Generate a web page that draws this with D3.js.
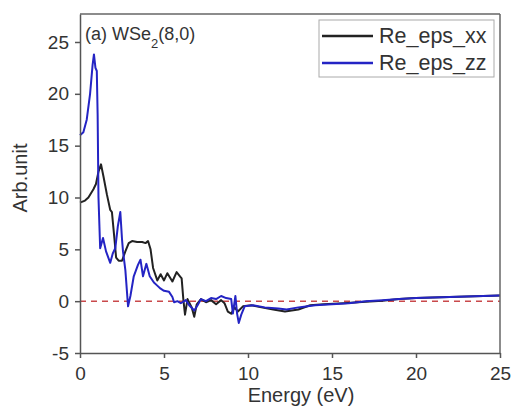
<!DOCTYPE html>
<html lang="en">
<head>
    <meta charset="UTF-8">
    <title>WSe2 (8,0)</title>
    <script src="https://cdn.jsdelivr.net/npm/d3@7"></script>
    <style>
        body { margin: 0; background: #fff; }
        text { font-family: "Liberation Sans", Arial, sans-serif; fill: #333; }
        .axis path, .axis line { stroke: #555; stroke-width: 1.5; }
        .axis text { font-size: 19px; fill: #333; }
    </style>
</head>
<body>
<svg id="chart" width="511" height="409"></svg>
<script>
    // energy (eV) and Re(eps) values
    var xxEnergy = [0, 0.3, 0.5, 0.8, 0.95, 1.1, 1.25, 1.4, 1.6, 1.8, 1.9, 2.05, 2.15, 2.3, 2.5, 2.7, 2.9, 3.1, 3.4, 3.7,
        3.9, 4.05, 4.2, 4.35, 4.6, 4.8, 5.0, 5.2, 5.5, 5.75, 5.95, 6.05, 6.15, 6.25, 6.4, 6.65, 6.8, 6.95, 7.2, 7.5,
        7.8, 8.1, 8.4, 8.6, 8.8, 9.0, 9.2, 9.4, 9.7, 10.2, 10.8, 11.5, 12.2, 13.0, 13.7, 14.5, 15.7, 17, 18, 19, 20, 22, 25];
    var xxValues = [9.5, 9.7, 10.0, 10.8, 11.3, 12.5, 13.2, 12.0, 10.3, 8.8, 8.6, 6.0, 4.2, 3.9, 3.9, 4.8, 5.6, 5.8, 5.7, 5.7,
        5.6, 5.8, 5.0, 3.2, 2.0, 2.6, 2.0, 2.7, 1.9, 2.8, 2.4, 2.2, 0.2, -1.3, 0.2, -0.6, -1.5, -0.3, 0.2, -0.1,
        0.1, -0.3, 0.1, -0.2, -1.0, -1.2, -0.6, -1.0, -0.5, -0.4, -0.6, -0.8, -1.0, -0.8, -0.4, -0.3, -0.2, -0.05, 0.05, 0.2, 0.3, 0.4, 0.55];

    var zzEnergy = [0, 0.2, 0.4, 0.6, 0.75, 0.83, 0.92, 1.0, 1.05, 1.1, 1.2, 1.37, 1.55, 1.8, 1.95, 2.1, 2.25, 2.4, 2.5, 2.56,
        2.7, 2.86, 3.0, 3.2, 3.45, 3.6, 3.75, 3.95, 4.15, 4.4, 4.6, 4.8, 5.0, 5.3, 5.5, 5.6, 5.8, 6.0, 6.3, 6.5,
        6.8, 7.0, 7.2, 7.5, 7.8, 8.1, 8.4, 8.7, 9.0, 9.1, 9.25, 9.35, 9.45, 9.6, 9.8, 10.3, 11, 11.8, 12.3, 13, 14, 15,
        16, 17, 18, 19, 20, 22, 25];
    var zzValues = [16.0, 16.3, 17.5, 20.0, 22.8, 23.8, 22.5, 22.2, 18, 10, 5.1, 6.1, 4.8, 3.7, 4.6, 5.1, 7.2, 8.6, 6.0, 4.8,
        3.0, -0.5, 0.5, 2.4, 3.5, 4.0, 2.4, 3.6, 2.4, 1.8, 1.5, 1.2, 1.0, 0.9, 0.4, -0.1, 0.0, -0.2, 0.1, -0.4,
        -0.9, -0.4, 0.2, 0.0, 0.3, 0.2, 0.5, 0.3, 0.2, -1.2, 0.5, -1.2, -2.1, -1.3, -0.5, -0.4, -0.6, -0.7, -0.8, -0.6, -0.4, -0.3,
        -0.2, 0.0, 0.1, 0.2, 0.3, 0.4, 0.55];

    var seriesNames = ["Re_eps_xx", "Re_eps_zz"];
    var seriesColors = ["#222222", "#2424c4"];
    var xTicks = [0, 5, 10, 15, 20, 25];
    var yTicks = [-5, 0, 5, 10, 15, 20, 25];

    var svg = d3.select("svg#chart");
    var margin = {top: 14, right: 11, bottom: 56, left: 80},
        width = 511 - margin.left - margin.right,
        height = 409 - margin.top - margin.bottom;

    var g = svg.append("g")
        .attr("transform", "translate(" + margin.left + "," + margin.top + ")");

    var x = d3.scaleLinear().domain([0, 25]).range([0, width]);
    var y = d3.scaleLinear().domain([-5, 27.7]).range([height, 0]);

    // zero reference line
    g.append("line")
        .attr("x1", x(0)).attr("x2", x(25))
        .attr("y1", y(0)).attr("y2", y(0))
        .attr("stroke", "#c9494b")
        .attr("stroke-width", 1.5)
        .attr("stroke-dasharray", "6,5");

    var line = d3.line()
        .x(function (d) { return x(d[0]); })
        .y(function (d) { return y(d[1]); });

    var xxData = d3.zip(xxEnergy, xxValues),
        zzData = d3.zip(zzEnergy, zzValues);

    g.append("path")
        .datum(xxData)
        .attr("d", line)
        .attr("fill", "none")
        .attr("stroke", seriesColors[0])
        .attr("stroke-width", 2)
        .attr("stroke-linejoin", "round");

    g.append("path")
        .datum(zzData)
        .attr("d", line)
        .attr("fill", "none")
        .attr("stroke", seriesColors[1])
        .attr("stroke-width", 2)
        .attr("stroke-linejoin", "round");

    // frame top and right
    g.append("line")
        .attr("x1", 0).attr("x2", width).attr("y1", 0).attr("y2", 0)
        .attr("stroke", "#666").attr("stroke-width", 1.5);
    g.append("line")
        .attr("x1", width).attr("x2", width).attr("y1", 0).attr("y2", height)
        .attr("stroke", "#666").attr("stroke-width", 1.5);

    // plain hyphen for negatives, as in the figure
    var plain = function (d) { return String(d); };

    g.append("g")
        .attr("class", "axis")
        .attr("transform", "translate(0," + height + ")")
        .call(d3.axisBottom(x).tickValues(xTicks).tickFormat(plain).tickSize(5).tickPadding(9).tickSizeOuter(0));

    g.append("g")
        .attr("class", "axis")
        .call(d3.axisLeft(y).tickValues(yTicks).tickFormat(plain).tickSize(5).tickPadding(6).tickSizeOuter(0));

    // axis titles
    svg.append("text")
        .attr("x", 301)
        .attr("y", 402)
        .attr("text-anchor", "middle")
        .style("font-size", "20px")
        .text("Energy (eV)");

    svg.append("text")
        .attr("transform", "translate(27,178) rotate(-90)")
        .attr("text-anchor", "middle")
        .style("font-size", "20px")
        .text("Arb.unit");

    // panel label
    var title = svg.append("text")
        .attr("x", 85)
        .attr("y", 40)
        .style("font-size", "18px");
    title.append("tspan").text("(a) WSe");
    title.append("tspan").attr("baseline-shift", "sub").style("font-size", "13px").text("2");
    title.append("tspan").text("(8,0)");

    // legend
    var legend = svg.append("g").attr("transform", "translate(319,20)");
    legend.append("rect")
        .attr("width", 175).attr("height", 57)
        .attr("fill", "#fff")
        .attr("stroke", "#aaa").attr("stroke-width", 1);

    seriesNames.forEach(function (name, i) {
        var row = legend.append("g").attr("transform", "translate(0," + (16 + i * 27) + ")");
        row.append("line")
            .attr("x1", 3).attr("x2", 54)
            .attr("stroke", seriesColors[i])
            .attr("stroke-width", 2.5);
        row.append("text")
            .attr("x", 60)
            .attr("y", 7)
            .style("font-size", "21.5px")
            .text(name);
    });
</script>
</body>
</html>
